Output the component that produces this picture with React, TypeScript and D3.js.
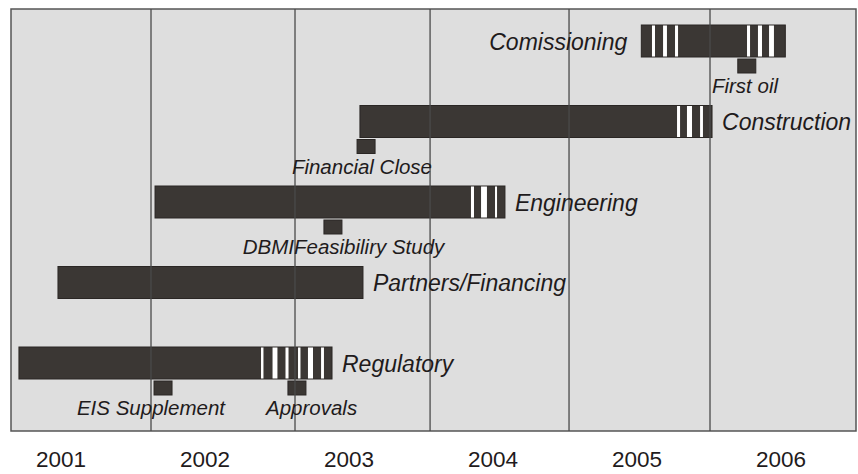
import * as d3 from "d3";
import React from "react";

// tasks, top row first; start / end in decimal years
const tasks = ["Comissioning", "Construction", "Engineering", "Partners/Financing", "Regulatory"];
const taskStart = [2005.03, 2003.076, 2001.653, 2000.979, 2000.708];
const taskEnd = [2006.03, 2005.521, 2004.083, 2003.097, 2002.882];
const labelSide = ["left", "right", "right", "right", "right"];

// white breaks inside the bars (pairs of [from, to] in years)
const breaks = [
  [[2005.104, 2005.125], [2005.181, 2005.208], [2005.264, 2005.285], [2005.764, 2005.785], [2005.84, 2005.868], [2005.917, 2005.951]],
  [[2005.278, 2005.299], [2005.347, 2005.382], [2005.438, 2005.458]],
  [[2003.847, 2003.868], [2003.917, 2003.958], [2004.014, 2004.028]],
  [],
  [[2002.389, 2002.406], [2002.469, 2002.503], [2002.559, 2002.58], [2002.646, 2002.663], [2002.715, 2002.75], [2002.806, 2002.826]],
];

// milestones
const milestones = ["First oil", "Financial Close", "DBMIFeasibiliry Study", "EIS Supplement", "Approvals"];
const milestoneRow = ["Comissioning", "Construction", "Engineering", "Regulatory", "Regulatory"];
const milestoneAt = [2005.70, 2003.056, 2002.826, 2001.646, 2002.576];
const milestoneLabelAt = [2005.75, 2003.09, 2002.962, 2001.625, 2002.74];

const years = [2001, 2002, 2003, 2004, 2005, 2006];
const gridYears = [2001.625, 2002.625, 2003.563, 2004.528, 2005.507];

const W = 858;
const H = 474;
const plot = { left: 11, top: 9, right: 856, bottom: 431 };

const App = () => {
  const x = d3.scaleLinear().domain([2001, 2006]).range([61, 781]);
  const y = d3.scalePoint<string>().domain(tasks).range([41, 363]);
  const barH = 32;
  const msW = x(2001.125) - x(2001);
  const msH = 14;
  const barFill = "#3b3734";
  const textCol = "#1f1b1c";

  return (
    <svg width={W} height={H} style={{ position: "absolute", left: 0, top: 0, background: "#fff" }}
      fontFamily="'Liberation Sans', Arial, sans-serif">
      <rect x={plot.left} y={plot.top} width={plot.right - plot.left} height={plot.bottom - plot.top}
        fill="#dedede" stroke="#555" strokeWidth={1.5} />

      {tasks.map((t, i) => {
        const cy = y(t)!;
        return (
          <g key={t}>
            <rect x={x(taskStart[i])} y={cy - barH / 2} width={x(taskEnd[i]) - x(taskStart[i])} height={barH}
              fill={barFill} stroke="#2a2624" strokeWidth={1} />
            {breaks[i].map((b, j) => (
              <rect key={j} x={x(b[0])} y={cy - barH / 2 + 0.5} width={x(b[1]) - x(b[0])} height={barH - 1} fill="#fff" />
            ))}
          </g>
        );
      })}

      {milestones.map((m, i) => {
        const cy = y(milestoneRow[i])!;
        return (
          <rect key={m} x={x(milestoneAt[i])} y={cy + barH / 2 + 2} width={msW} height={msH}
            fill={barFill} stroke="#2a2624" strokeWidth={1} />
        );
      })}

      {gridYears.map((g) => (
        <line key={g} x1={x(g)} x2={x(g)} y1={plot.top} y2={plot.bottom} stroke="#4a4a4a" strokeWidth={1.3} />
      ))}

      {tasks.map((t, i) => {
        const cy = y(t)!;
        const left = labelSide[i] === "left";
        return (
          <text key={t} x={left ? x(taskStart[i]) - 14 : x(taskEnd[i]) + 10} y={cy + 8.5}
            textAnchor={left ? "end" : "start"} fontStyle="italic" fontSize={23} fill={textCol}>
            {t}
          </text>
        );
      })}

      {milestones.map((m, i) => {
        const cy = y(milestoneRow[i])!;
        return (
          <text key={m} x={x(milestoneLabelAt[i])} y={cy + barH / 2 + 36} textAnchor="middle"
            fontStyle="italic" fontSize={20.5} fill={textCol}>
            {m}
          </text>
        );
      })}

      {years.map((yr) => (
        <text key={yr} x={x(yr)} y={467} textAnchor="middle" fontSize={22.5} fill={textCol}>
          {yr}
        </text>
      ))}
    </svg>
  );
};

export default App;
